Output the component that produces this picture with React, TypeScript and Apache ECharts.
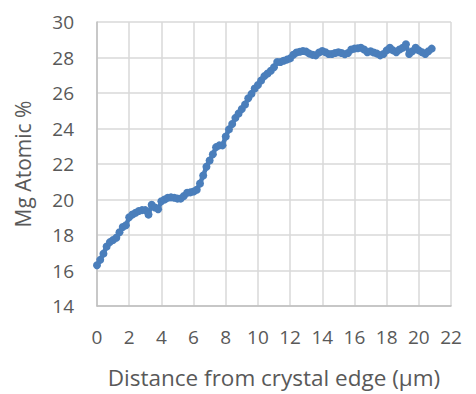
import React, { useEffect, useRef } from "react";
import * as echarts from "echarts";

const xTicks = [0, 2, 4, 6, 8, 10, 12, 14, 16, 18, 20, 22];
const yTicks = [14, 16, 18, 20, 22, 24, 26, 28, 30];

const distance = [
  0, 0.2, 0.4, 0.6, 0.8, 1.0, 1.2, 1.4, 1.6, 1.8, 2.0, 2.2, 2.4, 2.6, 2.8, 3.0,
  3.2, 3.4, 3.6, 3.8, 4.0, 4.2, 4.4, 4.6, 4.8, 5.0, 5.2, 5.4, 5.6, 5.8, 6.0,
  6.2, 6.4, 6.6, 6.8, 7.0, 7.2, 7.4, 7.6, 7.8, 8.0, 8.2, 8.4, 8.6, 8.8, 9.0,
  9.2, 9.4, 9.6, 9.8, 10.0, 10.2, 10.4, 10.6, 10.8, 11.0, 11.2, 11.4, 11.6,
  11.8, 12.0, 12.2, 12.4, 12.6, 12.8, 13.0, 13.2, 13.4, 13.6, 13.8, 14.0, 14.2,
  14.4, 14.6, 14.8, 15.0, 15.2, 15.4, 15.6, 15.8, 16.0, 16.2, 16.4, 16.6, 16.8,
  17.0, 17.2, 17.4, 17.6, 17.8, 18.0, 18.2, 18.4, 18.6, 18.8, 19.0, 19.2, 19.4,
  19.6, 19.8, 20.0, 20.2, 20.4, 20.6, 20.8,
];

const mgAtomic = [
  16.3, 16.6, 16.95, 17.35, 17.6, 17.72, 17.85, 18.15, 18.45, 18.55, 19.0,
  19.15, 19.25, 19.35, 19.4, 19.4, 19.15, 19.7, 19.55, 19.45, 19.9, 20.0, 20.1,
  20.12, 20.1, 20.05, 20.05, 20.2, 20.38, 20.4, 20.45, 20.55, 20.9, 21.35,
  21.85, 22.2, 22.55, 22.95, 23.05, 23.05, 23.55, 23.95, 24.25, 24.6, 24.85,
  25.1, 25.35, 25.7, 25.95, 26.25, 26.45, 26.7, 26.95, 27.1, 27.25, 27.45,
  27.75, 27.75, 27.82, 27.88, 27.95, 28.15, 28.28, 28.32, 28.37, 28.33, 28.22,
  28.15, 28.12, 28.28, 28.37, 28.3, 28.2, 28.2, 28.25, 28.3, 28.25, 28.18,
  28.25, 28.45, 28.5, 28.52, 28.55, 28.45, 28.3, 28.35, 28.28, 28.22, 28.12,
  28.2, 28.4, 28.55, 28.4, 28.3, 28.45, 28.55, 28.75, 28.2, 28.35, 28.55, 28.4,
  28.3, 28.2, 28.35, 28.5,
];

const xTitle = "Distance from crystal edge (µm)";
const yTitle = "Mg Atomic %";

export default function App() {
  const ref = useRef<HTMLDivElement>(null);
  useEffect(() => {
    if (!ref.current) return;
    const chart = echarts.init(ref.current, null, { renderer: "svg" });
    const font = "'Open Sans', sans-serif";
    const textColor = "#595959";
    chart.setOption({
      animation: false,
      grid: { left: 97, right: 25, top: 22, bottom: 80, containLabel: false },
      xAxis: {
        type: "value",
        min: xTicks[0],
        max: xTicks[xTicks.length - 1],
        interval: 2,
        name: xTitle,
        nameLocation: "middle",
        nameGap: 60,
        nameTextStyle: { fontFamily: font, fontSize: 22.5, color: textColor },
        axisLine: { show: true, lineStyle: { color: "#BFBFBF", width: 1.5 } },
        axisTick: { show: false },
        axisLabel: { fontFamily: font, fontSize: 19, color: textColor, margin: 21 },
        splitLine: { show: true, lineStyle: { color: "#D9D9D9", width: 1.5 } },
      },
      yAxis: {
        type: "value",
        min: yTicks[0],
        max: yTicks[yTicks.length - 1],
        interval: 2,
        name: yTitle,
        nameLocation: "middle",
        nameGap: 64,
        nameTextStyle: { fontFamily: font, fontSize: 21, color: textColor },
        axisLine: { show: true, lineStyle: { color: "#BFBFBF", width: 1.5 } },
        axisTick: { show: false },
        axisLabel: { fontFamily: font, fontSize: 19, color: textColor, margin: 23 },
        splitLine: { show: true, lineStyle: { color: "#D9D9D9", width: 1.5 } },
      },
      series: [
        {
          type: "line",
          data: distance.map((d, i) => [d, mgAtomic[i]]),
          symbol: "circle",
          symbolSize: 8,
          showSymbol: true,
          itemStyle: { color: "#4A7EBB" },
          lineStyle: { color: "#4A7EBB", width: 4.5 },
        },
      ],
    });
    return () => chart.dispose();
  }, []);
  return <div ref={ref} style={{ width: 476, height: 394, position: "absolute", left: 0, top: 0 }} />;
}
